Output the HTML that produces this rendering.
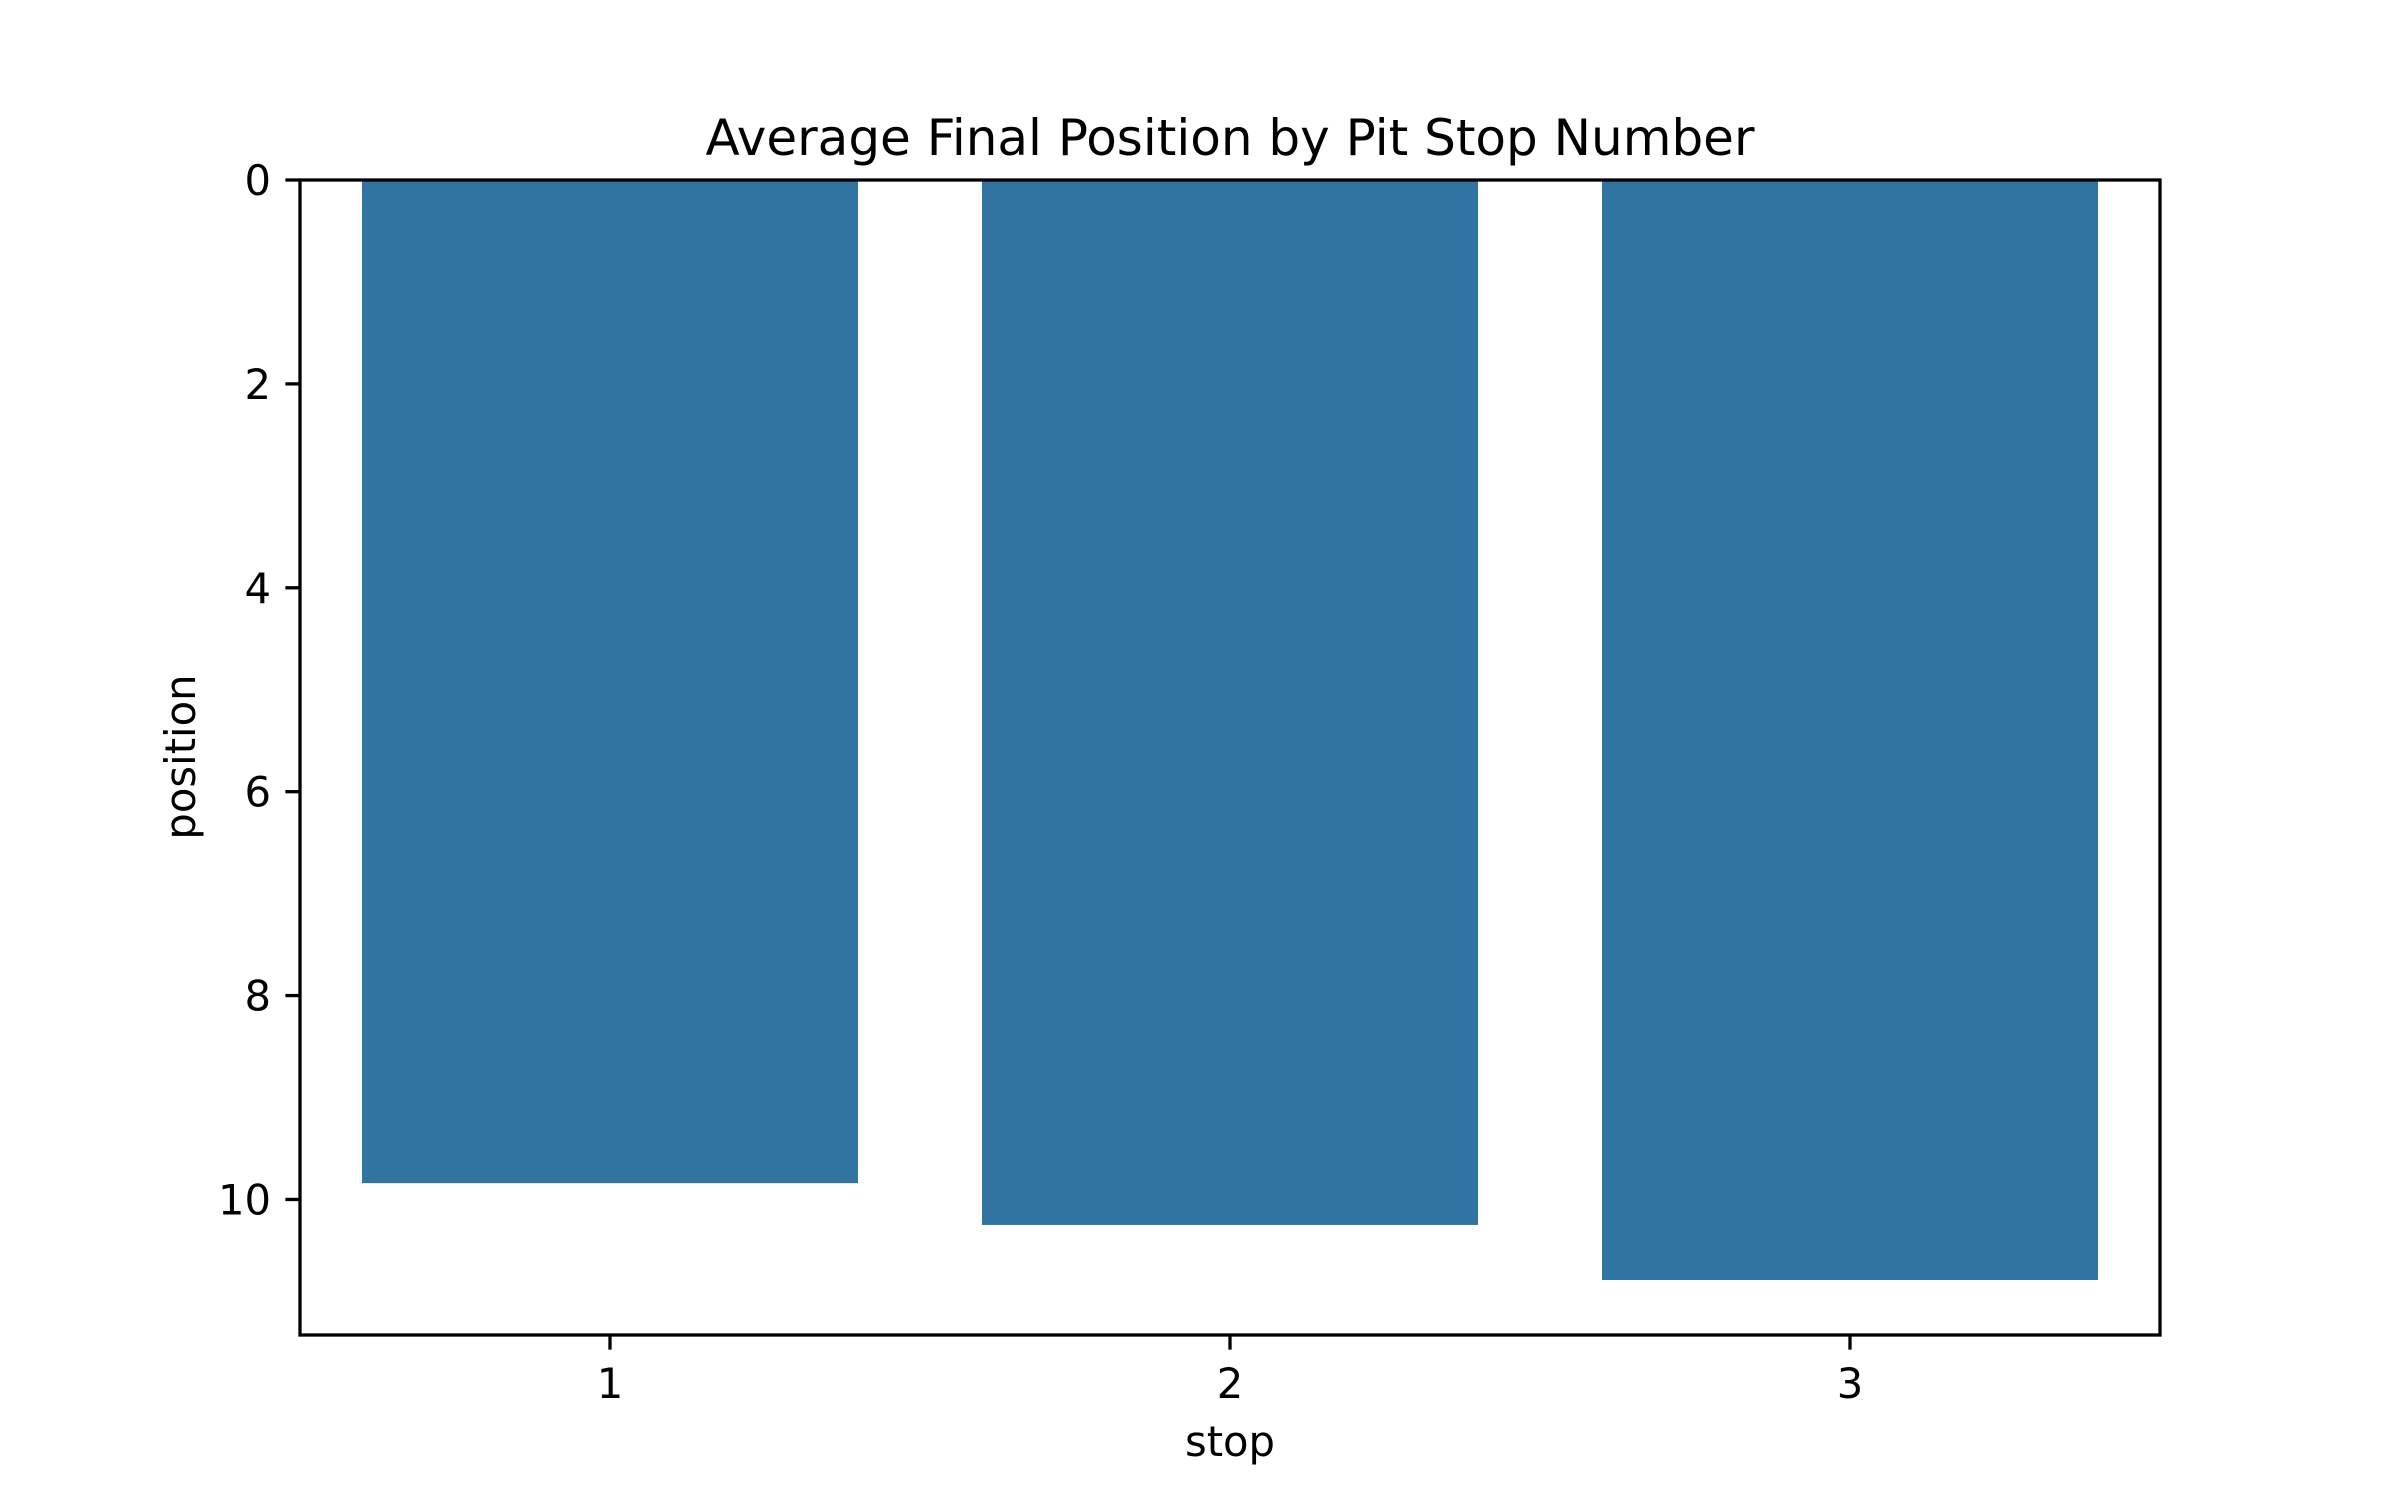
<!DOCTYPE html>
<html><head><meta charset="utf-8"><style>
html,body{margin:0;padding:0;background:#fff;}
svg{display:block;font-family:"DejaVu Sans","Liberation Sans",sans-serif;}
</style></head><body>
<svg id="chart" width="2400" height="1500" viewBox="0 0 2400 1500" xmlns="http://www.w3.org/2000/svg">
<rect width="2400" height="1500" fill="#fff"/>
<text x="1230" y="155" font-size="50" text-anchor="middle" fill="#000">Average Final Position by Pit Stop Number</text>
<text x="1230" y="1456" font-size="41.7" text-anchor="middle" fill="#000">stop</text>
<text x="0" y="0" font-size="41.7" text-anchor="middle" fill="#000" transform="translate(195,757) rotate(-90)">position</text>
<g id="bars"></g>
<g id="yticks"></g>
<g id="xticks"></g>
<rect x="300" y="180" width="1860" height="1155" fill="none" stroke="#000" stroke-width="3.3"/>
</svg>
<script>
const categories = ["1", "2", "3"];
const values = [9.84, 10.25, 10.79];
const yTickValues = [0, 2, 4, 6, 8, 10];
const yTickLabels = ["0", "2", "4", "6", "8", "10"];

const L = 300, R = 2160, T = 180, B = 1335;
const yMax = Math.max(...values) * 1.05;
function yScale(v) { return T + (v / yMax) * (B - T); }
function xScale(i) { return L + (i + 0.5) * (R - L) / categories.length; }
const band = (R - L) / categories.length;
const NS = "http://www.w3.org/2000/svg";
function mk(tag, attrs, parent) {
  const e = document.createElementNS(NS, tag);
  for (const k in attrs) e.setAttribute(k, attrs[k]);
  parent.appendChild(e);
  return e;
}
const gb = document.getElementById("bars");
values.forEach((v, i) => {
  const r = mk("rect", {x: xScale(i) - band * 0.4, y: yScale(0), width: band * 0.8, height: yScale(v) - yScale(0), fill: "#3274a1"}, gb);
  
  
});
const gy = document.getElementById("yticks");
yTickValues.forEach((v, i) => {
  const y = yScale(v);
  const t = mk("line", {x1: L - 14.6, x2: L, y1: y, y2: y, stroke: "#000", "stroke-width": 3.3}, gy);
  
  
  const lb = mk("text", {x: L - 29, y: y + 15, "font-size": 41.7, "text-anchor": "end", fill: "#000"}, gy);
  lb.textContent = yTickLabels[i];
  
  
});
const gx = document.getElementById("xticks");
categories.forEach((c, i) => {
  const x = xScale(i);
  const t = mk("line", {x1: x, x2: x, y1: B, y2: B + 14.6, stroke: "#000", "stroke-width": 3.3}, gx);
  
  
  const lb = mk("text", {x: x, y: B + 63, "font-size": 41.7, "text-anchor": "middle", fill: "#000"}, gx);
  lb.textContent = c;
  
  
});
</script>
</body></html>
